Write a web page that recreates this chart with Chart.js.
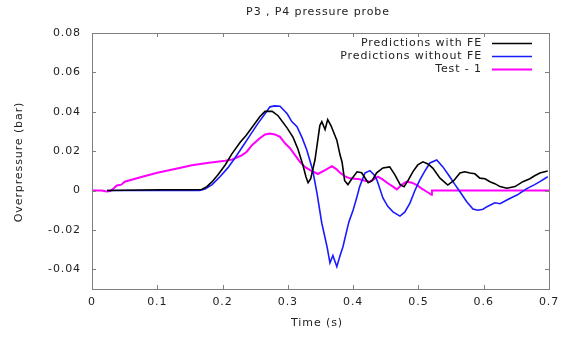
<!DOCTYPE html>
<html>
<head>
<meta charset="utf-8">
<script src="https://cdn.jsdelivr.net/npm/chart.js@4/dist/chart.umd.min.js"></script>
<style>
  html, body { margin: 0; padding: 0; background: #fff; }
  #wrap { width: 566px; height: 338px; position: relative; }
</style>
</head>
<body>
<div id="wrap"><canvas id="c" width="566" height="338"></canvas></div>
<script>
// ---- Data ----
const chartTitle = 'P3 , P4 pressure probe';
const xTitle = 'Time (s)';
const yTitle = 'Overpressure (bar)';
const seriesNames = ['Predictions with FE', 'Predictions without FE', 'Test - 1'];

const xTickValues = [0, 0.1, 0.2, 0.3, 0.4, 0.5, 0.6, 0.7];
const xTickLabels = ['0', '0.1', '0.2', '0.3', '0.4', '0.5', '0.6', '0.7'];
const yTickValues = [-0.04, -0.02, 0, 0.02, 0.04, 0.06, 0.08];
const yTickLabels = ['-0.04', '-0.02', '0', '0.02', '0.04', '0.06', '0.08'];

// Predictions with FE (black)
const timeFE = [0.023, 0.104, 0.150, 0.168, 0.176, 0.184, 0.193, 0.204, 0.214, 0.227, 0.236, 0.245, 0.257, 0.265, 0.276, 0.285, 0.299, 0.308, 0.3155, 0.323, 0.3277, 0.331, 0.335, 0.3415, 0.346, 0.349, 0.352, 0.357, 0.361, 0.366, 0.375, 0.380, 0.383, 0.387, 0.392, 0.398, 0.406, 0.413, 0.423, 0.429, 0.436, 0.4456, 0.456, 0.464, 0.472, 0.478, 0.484, 0.4916, 0.499, 0.507, 0.5145, 0.522, 0.533, 0.545, 0.554, 0.5636, 0.571, 0.579, 0.5865, 0.594, 0.602, 0.6095, 0.617, 0.625, 0.6355, 0.648, 0.660, 0.6707, 0.678, 0.686, 0.698];
const valueFE = [0, 0.0004, 0.0004, 0.0005, 0.002, 0.0045, 0.008, 0.013, 0.0185, 0.0245, 0.028, 0.032, 0.0375, 0.0402, 0.0402, 0.038, 0.0317, 0.027, 0.021, 0.013, 0.007, 0.004, 0.006, 0.0155, 0.026, 0.033, 0.035, 0.031, 0.036, 0.033, 0.0256, 0.018, 0.0145, 0.005, 0.003, 0.006, 0.0095, 0.009, 0.004, 0.005, 0.009, 0.0115, 0.012, 0.008, 0.003, 0.002, 0.005, 0.0096, 0.013, 0.0146, 0.0135, 0.0114, 0.0063, 0.0028, 0.005, 0.0089, 0.0095, 0.0089, 0.0085, 0.0063, 0.006, 0.0045, 0.0035, 0.002, 0.0012, 0.002, 0.0045, 0.006, 0.0075, 0.0089, 0.0099];

// Predictions without FE (blue)
const timeNoFE = [0.023, 0.165, 0.173, 0.184, 0.196, 0.208, 0.219, 0.230, 0.242, 0.254, 0.265, 0.2726, 0.280, 0.288, 0.299, 0.306, 0.314, 0.3216, 0.329, 0.338, 0.3446, 0.352, 0.360, 0.3645, 0.369, 0.375, 0.380, 0.3844, 0.3905, 0.3936, 0.400, 0.406, 0.410, 0.418, 0.4257, 0.432, 0.4365, 0.4456, 0.453, 0.461, 0.4717, 0.479, 0.487, 0.4946, 0.502, 0.510, 0.5176, 0.528, 0.5375, 0.548, 0.556, 0.5636, 0.574, 0.5835, 0.591, 0.599, 0.605, 0.617, 0.625, 0.6355, 0.643, 0.651, 0.666, 0.678, 0.686, 0.698];
const valueNoFE = [0, 0, 0.0008, 0.003, 0.007, 0.0115, 0.0165, 0.022, 0.028, 0.034, 0.039, 0.0425, 0.043, 0.0428, 0.039, 0.035, 0.0324, 0.027, 0.0206, 0.0104, -0.0013, -0.0166, -0.0285, -0.0367, -0.033, -0.0387, -0.033, -0.0285, -0.020, -0.0158, -0.0099, -0.003, 0.002, 0.0089, 0.0101, 0.008, 0.0053, -0.0038, -0.008, -0.0108, -0.013, -0.011, -0.0064, 0.0, 0.0053, 0.010, 0.014, 0.0155, 0.012, 0.007, 0.003, -0.0006, -0.0057, -0.0094, -0.010, -0.0095, -0.0082, -0.0062, -0.0067, -0.0048, -0.0035, -0.0023, 0.001, 0.003, 0.0045, 0.007];

// Test - 1 (magenta)
const timeTest = [0, 0.015, 0.022, 0.028, 0.033, 0.038, 0.045, 0.050, 0.077, 0.100, 0.127, 0.153, 0.179, 0.204, 0.215, 0.230, 0.237, 0.245, 0.257, 0.265, 0.2726, 0.280, 0.288, 0.2956, 0.303, 0.311, 0.3185, 0.326, 0.334, 0.346, 0.357, 0.3675, 0.3737, 0.380, 0.3875, 0.395, 0.403, 0.410, 0.418, 0.4257, 0.438, 0.4456, 0.453, 0.461, 0.467, 0.4747, 0.482, 0.490, 0.4977, 0.505, 0.513, 0.520, 0.5207, 0.700];
const valueTest = [0, 0, -0.0005, -0.0003, 0.001, 0.0026, 0.003, 0.0045, 0.007, 0.009, 0.0109, 0.0128, 0.0141, 0.0151, 0.0158, 0.018, 0.0197, 0.023, 0.0266, 0.0285, 0.029, 0.0285, 0.0273, 0.024, 0.0216, 0.018, 0.0146, 0.012, 0.0104, 0.0084, 0.0104, 0.0124, 0.011, 0.009, 0.0072, 0.0062, 0.006, 0.0057, 0.005, 0.0045, 0.007, 0.0055, 0.0037, 0.002, 0.0006, 0.003, 0.0045, 0.004, 0.0028, 0.001, -0.0006, -0.0022, 0, 0];

// ---- Build chart ----
const pts = (xs, ys) => xs.map((x, i) => ({ x: x, y: ys[i] }));
const colors = ['#000000', '#1a1aff', '#ff00ff'];
const widths = [1.6, 1.6, 2];
const FONT = 'DejaVu Sans';
const FSIZE = 11;
const TEXT = '#222222';
const FRAME = '#7f7f7f';

const decor = {
  id: 'decor',
  beforeDraw(chart) {
    chart.ctx.letterSpacing = '0.9px';
  },
  afterDraw(chart) {
    const ctx = chart.ctx;
    const a = chart.chartArea;
    const xs = chart.scales.x, ys = chart.scales.y;
    ctx.save();
    ctx.letterSpacing = '0.9px';
    // frame
    ctx.strokeStyle = FRAME;
    ctx.lineWidth = 1;
    ctx.strokeRect(Math.round(a.left) + 0.5, Math.round(a.top) + 0.5, Math.round(a.right - a.left), Math.round(a.bottom - a.top));
    // inward ticks on all four sides
    ctx.beginPath();
    xTickValues.forEach(v => {
      const px = Math.round(xs.getPixelForValue(v)) + 0.5;
      ctx.moveTo(px, a.bottom); ctx.lineTo(px, a.bottom - 4);
      ctx.moveTo(px, a.top); ctx.lineTo(px, a.top + 4);
    });
    yTickValues.forEach(v => {
      const py = Math.round(ys.getPixelForValue(v)) + 0.5;
      ctx.moveTo(a.left, py); ctx.lineTo(a.left + 4, py);
      ctx.moveTo(a.right, py); ctx.lineTo(a.right - 4, py);
    });
    ctx.stroke();
    // titles
    ctx.fillStyle = TEXT;
    ctx.font = FSIZE + 'px "' + FONT + '"';
    ctx.textAlign = 'center';
    ctx.textBaseline = 'middle';
    ctx.fillText(chartTitle, 318, 12);
    ctx.fillText(xTitle, 317, 323);
    ctx.save();
    ctx.translate(19, 162);
    ctx.rotate(-Math.PI / 2);
    ctx.fillText(yTitle, 0, 0);
    ctx.restore();
    // legend (gnuplot style: text right-aligned, sample line on the right)
    const rows = [43, 56, 69];
    ctx.textAlign = 'right';
    seriesNames.forEach((name, i) => {
      ctx.fillStyle = TEXT;
      ctx.fillText(name, 482, rows[i]);
      ctx.strokeStyle = colors[i];
      ctx.lineWidth = widths[i];
      ctx.beginPath();
      ctx.moveTo(492, rows[i] + 0.5);
      ctx.lineTo(532, rows[i] + 0.5);
      ctx.stroke();
    });
    ctx.restore();
  }
};

new Chart(document.getElementById('c'), {
  type: 'line',
  data: {
    datasets: [
      { label: seriesNames[0], data: pts(timeFE, valueFE) },
      { label: seriesNames[1], data: pts(timeNoFE, valueNoFE) },
      { label: seriesNames[2], data: pts(timeTest, valueTest) }
    ].map((d, i) => Object.assign(d, {
      borderColor: colors[i],
      backgroundColor: colors[i],
      borderWidth: widths[i],
      pointRadius: 0,
      tension: 0,
      fill: false
    }))
  },
  options: {
    responsive: false,
    animation: false,
    devicePixelRatio: 1,
    layout: { padding: { top: 33, right: 17, left: 0, bottom: 0 } },
    plugins: { legend: { display: false }, title: { display: false }, tooltip: { enabled: false } },
    scales: {
      x: {
        type: 'linear', min: 0, max: 0.7,
        grid: { display: false, drawTicks: false },
        border: { display: false },
        afterBuildTicks: s => { s.ticks = xTickValues.map(v => ({ value: v })); },
        afterFit: s => { s.height = 49; },
        ticks: {
          padding: 7, maxRotation: 0, autoSkip: false,
          color: TEXT, font: { family: FONT, size: FSIZE },
          callback: (v) => { const i = xTickValues.findIndex(t => Math.abs(t - v) < 1e-9); return i >= 0 ? xTickLabels[i] : ''; }
        }
      },
      y: {
        type: 'linear', min: -0.05, max: 0.08,
        grid: { display: false, drawTicks: false },
        border: { display: false },
        afterBuildTicks: s => { s.ticks = yTickValues.map(v => ({ value: v })); },
        afterFit: s => { s.width = 92; },
        ticks: {
          padding: 11, autoSkip: false,
          color: TEXT, font: { family: FONT, size: FSIZE },
          callback: (v) => { const i = yTickValues.findIndex(t => Math.abs(t - v) < 1e-9); return i >= 0 ? yTickLabels[i] : ''; }
        }
      }
    }
  },
  plugins: [decor]
});
</script>
</body>
</html>
